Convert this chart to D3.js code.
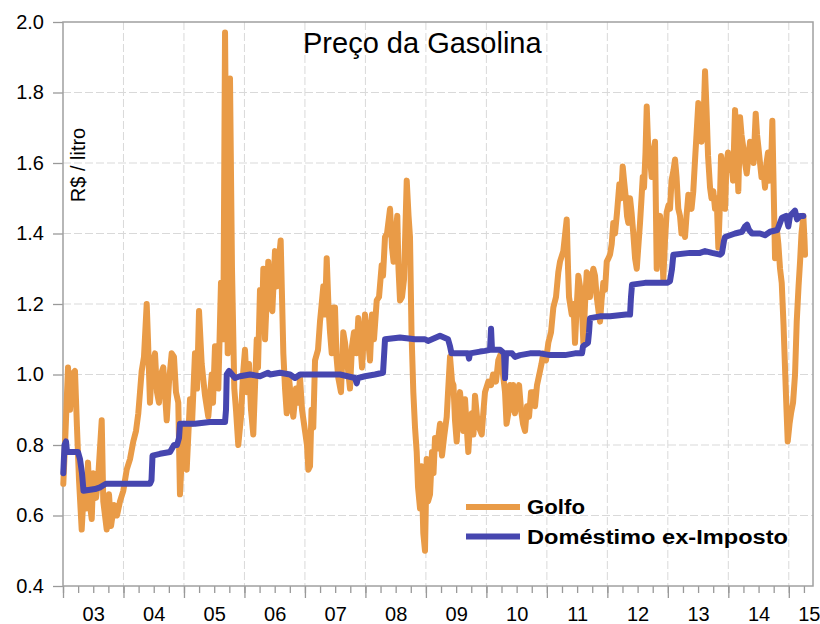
<!DOCTYPE html>
<html>
<head>
<meta charset="utf-8">
<script src="https://cdn.jsdelivr.net/npm/d3@7"></script>
<style>
  body { margin: 0; background: #fff; }
  svg { display: block; font-family: "Liberation Sans", Arial, sans-serif; }
</style>
</head>
<body>
<svg width="820" height="624"></svg>
<script>
// time is in years since Jan 2003
const startYear = 2003;

const golfoT = [0.005,0.033,0.083,0.116,0.149,0.198,0.231,0.265,0.309,0.347,0.380,0.413,0.446,0.475,0.501,0.546,0.579,0.640,0.666,0.723,
  0.761,0.794,0.843,0.893,0.942,0.997,1.053,1.108,1.162,1.207,1.245,1.273,1.301,1.339,1.384,1.405,1.438,1.471,1.521,1.554,
  1.587,1.620,1.658,1.715,1.753,1.797,1.835,1.868,1.906,1.934,1.968,2.001,2.045,2.100,2.133,2.182,2.216,2.249,2.293,2.348,
  2.402,2.459,2.480,2.513,2.568,2.612,2.650,2.679,2.723,2.761,2.794,2.832,2.860,2.898,2.943,2.976,3.009,3.042,3.075,3.108,
  3.146,3.203,3.224,3.257,3.290,3.312,3.340,3.394,3.423,3.461,3.505,3.538,3.555,3.599,3.643,3.671,3.699,3.737,3.770,3.808,
  3.852,3.885,3.919,3.952,4.001,4.034,4.056,4.084,4.109,4.138,4.167,4.216,4.249,4.277,4.304,4.332,4.360,4.390,4.415,4.443,
  4.472,4.497,4.522,4.552,4.596,4.634,4.663,4.696,4.745,4.778,4.811,4.853,4.882,4.911,4.944,4.993,5.043,5.076,5.109,5.142,
  5.187,5.225,5.269,5.291,5.324,5.357,5.407,5.440,5.465,5.489,5.527,5.547,5.572,5.605,5.638,5.683,5.713,5.737,5.762,5.792,
  5.820,5.848,5.870,5.903,5.927,5.957,5.985,6.013,6.035,6.068,6.101,6.126,6.151,6.184,6.233,6.266,6.299,6.344,6.366,6.399,
  6.432,6.456,6.481,6.509,6.539,6.564,6.597,6.619,6.647,6.671,6.701,6.729,6.757,6.787,6.812,6.845,6.878,6.923,6.953,6.977,
  7.032,7.077,7.110,7.159,7.197,7.242,7.275,7.308,7.333,7.363,7.391,7.415,7.445,7.473,7.506,7.540,7.573,7.606,7.639,7.672,
  7.705,7.738,7.776,7.804,7.837,7.887,7.911,7.941,7.986,8.024,8.069,8.107,8.151,8.189,8.217,8.272,8.328,8.350,8.366,8.411,
  8.441,8.465,8.490,8.520,8.548,8.573,8.603,8.631,8.659,8.689,8.713,8.738,8.768,8.796,8.824,8.854,8.879,8.904,8.933,8.962,
  8.990,9.019,9.044,9.072,9.098,9.127,9.160,9.198,9.226,9.254,9.276,9.300,9.325,9.347,9.375,9.400,9.429,9.458,9.486,9.515,
  9.540,9.565,9.585,9.606,9.631,9.651,9.672,9.697,9.733,9.763,9.788,9.816,9.846,9.871,9.896,9.925,9.953,9.981,10.011,10.036,
  10.061,10.094,10.119,10.144,10.173,10.201,10.226,10.256,10.284,10.309,10.339,10.367,10.392,10.421,10.450,10.474,10.504,10.532,10.557,10.587,
  10.615,10.640,10.665,10.698,10.722,10.752,10.780,10.808,10.835,10.855,10.879,10.904,10.929,10.946,10.970,10.995,11.020,11.045,11.078,11.111,
  11.135,11.165,11.185,11.194,11.218,11.251,11.276,11.304,11.334,11.359,11.384,11.417,11.453,11.475,11.500,11.524,11.549,11.579,11.607,11.632,
  11.656,11.681,11.706,11.728,11.747,11.772,11.797,11.827,11.855,11.883,11.913,11.937,11.962,11.982,12.012,12.037,12.070,12.103,12.131,12.161,
  12.186,12.210,12.240,12.260,12.268];

const golfoV = [0.69,0.80,1.02,0.90,1.00,1.01,0.85,0.70,0.56,0.68,0.62,0.75,0.63,0.59,0.72,0.65,0.70,0.87,0.64,0.56,
  0.66,0.57,0.63,0.60,0.64,0.67,0.73,0.76,0.81,0.84,0.89,0.95,1.01,1.05,1.20,1.10,0.92,1.02,1.06,0.95,
  0.92,1.00,1.02,0.87,0.98,1.06,1.05,0.95,0.92,0.66,0.78,0.86,0.73,0.93,0.86,1.06,0.96,1.18,1.03,0.94,
  0.88,1.00,0.92,1.08,0.96,1.26,1.10,1.97,1.06,1.84,1.30,0.96,0.90,0.80,0.88,1.00,1.07,0.95,1.03,0.90,
  0.83,1.10,1.02,1.24,1.15,1.30,1.10,1.32,1.20,1.18,1.35,1.25,1.30,1.38,1.06,0.96,0.89,0.99,0.93,0.88,
  0.96,0.92,0.99,0.90,0.84,0.80,0.73,0.74,0.90,0.85,1.04,1.07,1.15,1.20,1.25,1.17,1.33,1.19,1.12,1.06,
  1.19,1.19,1.05,0.99,0.95,1.12,1.09,1.04,0.96,1.08,1.12,1.06,1.16,1.10,1.02,1.17,1.10,1.04,1.17,1.10,
  1.21,1.22,1.31,1.28,1.39,1.40,1.47,1.36,1.32,1.38,1.45,1.30,1.21,1.22,1.27,1.55,1.45,1.39,1.12,0.95,
  0.85,0.78,0.68,0.62,0.74,0.55,0.50,0.76,0.64,0.66,0.78,0.72,0.82,0.79,0.86,0.77,0.82,0.88,0.95,1.05,
  0.98,0.97,0.87,0.81,0.90,0.95,0.88,0.84,0.93,0.86,0.78,0.86,0.89,0.83,0.94,0.88,0.85,0.83,0.90,0.95,
  0.98,0.97,1.00,0.98,1.04,1.06,1.00,0.95,0.86,0.89,0.97,0.90,0.97,0.89,0.94,0.97,0.90,0.86,0.84,0.91,
  0.88,0.95,0.95,0.91,0.97,1.01,1.03,1.06,1.04,1.09,1.12,1.19,1.22,1.29,1.32,1.35,1.44,1.30,1.22,1.17,
  1.20,1.09,1.18,1.28,1.25,1.22,1.09,1.20,1.29,1.28,1.22,1.27,1.30,1.28,1.22,1.18,1.15,1.21,1.26,1.24,
  1.32,1.33,1.34,1.37,1.43,1.40,1.46,1.54,1.50,1.59,1.55,1.51,1.45,1.43,1.50,1.46,1.40,1.33,1.30,1.37,
  1.43,1.50,1.56,1.53,1.63,1.76,1.66,1.63,1.56,1.60,1.66,1.30,1.42,1.45,1.40,1.27,1.38,1.46,1.48,1.47,
  1.55,1.58,1.61,1.56,1.47,1.45,1.40,1.42,1.39,1.45,1.51,1.48,1.47,1.52,1.61,1.68,1.77,1.72,1.66,1.70,
  1.86,1.75,1.62,1.53,1.50,1.52,1.47,1.50,1.36,1.45,1.62,1.57,1.52,1.47,1.60,1.63,1.58,1.62,1.55,1.75,
  1.68,1.52,1.65,1.73,1.68,1.64,1.60,1.57,1.62,1.66,1.64,1.60,1.74,1.68,1.64,1.60,1.56,1.58,1.53,1.60,
  1.63,1.55,1.58,1.72,1.55,1.33,1.42,1.37,1.30,1.26,1.14,1.02,0.90,0.81,0.86,0.89,0.92,1.00,1.15,1.25,
  1.32,1.40,1.45,1.38,1.34];

const domT = [0.005,0.025,0.050,0.066,0.116,0.248,0.281,0.314,0.339,0.529,0.612,0.661,0.711,0.860,1.025,1.190,1.356,1.438,1.463,1.480,
  1.604,1.769,1.802,1.835,1.885,1.918,1.934,2.182,2.430,2.679,2.695,2.707,2.745,2.844,2.927,3.092,3.257,3.390,3.423,3.588,
  3.754,3.836,3.919,4.249,4.580,4.828,4.856,4.877,4.993,5.158,5.291,5.307,5.324,5.572,5.820,5.985,6.035,6.101,6.233,6.366,
  6.399,6.423,6.564,6.696,6.713,6.729,6.895,6.977,7.060,7.077,7.093,7.226,7.292,7.308,7.325,7.424,7.473,7.556,7.721,7.887,
  8.052,8.300,8.465,8.581,8.598,8.680,8.697,8.713,8.879,9.044,9.309,9.375,9.391,9.408,9.623,9.871,9.987,10.036,10.069,10.091,
  10.367,10.532,10.615,10.731,10.863,10.896,10.929,10.946,11.111,11.227,11.276,11.309,11.343,11.392,11.524,11.607,11.690,11.810,11.855,11.888,
  11.954,11.992,12.020,12.103,12.136,12.186,12.240];

const domV = [0.72,0.80,0.81,0.78,0.78,0.78,0.76,0.72,0.67,0.675,0.68,0.685,0.69,0.69,0.69,0.69,0.69,0.69,0.70,0.77,
  0.775,0.78,0.79,0.80,0.80,0.82,0.86,0.86,0.865,0.865,0.90,1.00,1.01,0.99,0.995,1.00,0.995,1.005,1.00,1.005,
  1.00,0.99,1.00,1.00,1.00,0.99,0.975,0.99,0.995,1.00,1.005,1.05,1.10,1.105,1.10,1.10,1.095,1.10,1.11,1.10,
  1.08,1.06,1.06,1.06,1.045,1.06,1.065,1.067,1.07,1.13,1.07,1.07,1.06,0.99,1.06,1.06,1.05,1.055,1.06,1.06,
  1.055,1.055,1.06,1.06,1.08,1.09,1.12,1.16,1.165,1.165,1.17,1.17,1.22,1.255,1.26,1.26,1.26,1.265,1.30,1.34,
  1.345,1.345,1.35,1.345,1.34,1.345,1.38,1.39,1.40,1.405,1.42,1.425,1.41,1.40,1.40,1.395,1.405,1.41,1.43,1.445,
  1.45,1.42,1.45,1.465,1.44,1.45,1.45];

const yTicks = [0.4, 0.6, 0.8, 1.0, 1.2, 1.4, 1.6, 1.8, 2.0];
const yearLabels = ["03","04","05","06","07","08","09","10","11","12","13","14","15"];
const seriesNames = ["Golfo", "Doméstimo ex-Imposto"];
const colors = ["#E99B47", "#4646AF"];

var svg = d3.select('svg');

var x = d3.scaleLinear().domain([0, 12.4]).range([63, 813]);
var y = d3.scaleLinear().domain([0.4, 2.0]).range([586, 22]);

var years = d3.range(0, 13);
var quarters = d3.range(0, 12.4, 0.25);
// label sits mid-year, last one inside the short 2015 stub
var labelPos = years.map(d => d < 12 ? d + 0.5 : 12.33);

// grid
svg.append("g").selectAll("line")
    .data(yTicks.slice(1, -1))
    .enter().append("line")
    .attr("x1", 63).attr("x2", 813)
    .attr("y1", d => y(d)).attr("y2", d => y(d))
    .attr("stroke", "#d9d9d9").attr("stroke-dasharray", "8,3");

svg.append("g").selectAll("line")
    .data(years.slice(1))
    .enter().append("line")
    .attr("x1", d => x(d)).attr("x2", d => x(d))
    .attr("y1", 22).attr("y2", 586)
    .attr("stroke", "#d9d9d9").attr("stroke-dasharray", "8,3");

// y axis
var yAxis = svg.append("g")
    .attr("transform", "translate(63,0)")
    .call(d3.axisLeft(y).tickValues(yTicks).tickFormat(d3.format(".1f")).tickSize(10).tickPadding(9));
yAxis.selectAll("text").style("font-size", "20px").attr("fill", "#000");

// x axis: quarters, years, labels
var xMinor = svg.append("g")
    .attr("transform", "translate(0,586)")
    .call(d3.axisBottom(x).tickValues(quarters).tickSize(7).tickFormat(""));
var xMajor = svg.append("g")
    .attr("transform", "translate(0,586)")
    .call(d3.axisBottom(x).tickValues(years).tickSize(12).tickFormat(""));
var xLab = svg.append("g")
    .attr("transform", "translate(0,586)")
    .call(d3.axisBottom(x).tickValues(labelPos).tickSize(0).tickPadding(21)
        .tickFormat((d, i) => yearLabels[i]));
xLab.selectAll("text").style("font-size", "20px").attr("fill", "#000");

[yAxis, xMinor, xMajor, xLab].forEach(g => {
    g.selectAll("line").attr("stroke", "#999").attr("stroke-width", 1.3);
    g.select(".domain").remove();
});

// frame
svg.append("rect")
    .attr("x", 63).attr("y", 22).attr("width", 750).attr("height", 564)
    .attr("fill", "none").attr("stroke", "#a0a0a0").attr("stroke-width", 1.5);

// series
var line = d3.line().x(d => x(d[0])).y(d => y(d[1]));
var series = [d3.zip(golfoT, golfoV), d3.zip(domT, domV)];

svg.append("g").selectAll("path")
    .data(series)
    .enter().append("path")
    .attr("d", line)
    .attr("fill", "none")
    .attr("stroke", (d, i) => colors[i])
    .attr("stroke-width", 6)
    .attr("stroke-linejoin", "round")
    .attr("stroke-linecap", "round");

// title and y label
svg.append("text")
    .attr("x", 303).attr("y", 53)
    .style("font-size", "29px")
    .text("Preço da Gasolina");

svg.append("text")
    .attr("transform", "translate(85,165)rotate(-90)")
    .attr("text-anchor", "middle")
    .style("font-size", "20px")
    .text("R$ / litro");

// legend
var legend = svg.append("g").selectAll("g")
    .data(seriesNames)
    .enter().append("g")
    .attr("transform", (d, i) => `translate(466,${507 + i * 29.5})`);

legend.append("line")
    .attr("x1", 0).attr("x2", 54)
    .attr("stroke", (d, i) => colors[i])
    .attr("stroke-width", 6);

legend.append("text")
    .attr("x", 61).attr("y", 7)
    .style("font-size", "20px")
    .style("font-weight", "bold")
    .attr("textLength", (d, i) => i === 0 ? 58 : 261)
    .attr("lengthAdjust", "spacingAndGlyphs")
    .text(d => d);
</script>
</body>
</html>
